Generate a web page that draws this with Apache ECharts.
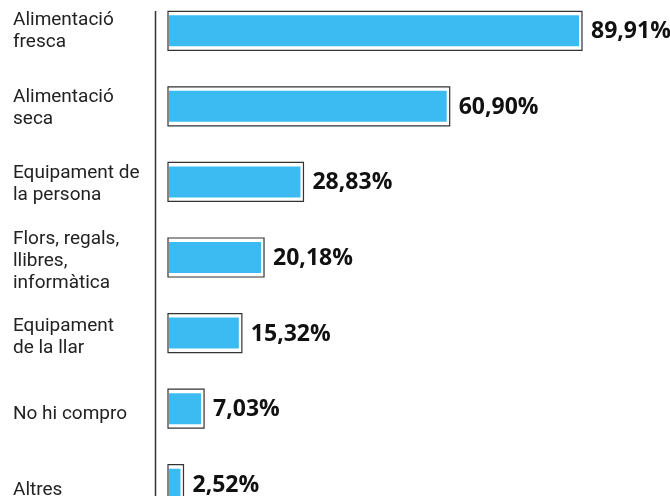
<!DOCTYPE html>
<html>
<head>
<meta charset="utf-8">
<script src="https://cdn.jsdelivr.net/npm/echarts@6/dist/echarts.min.js"></script>
<style>
  html, body { margin: 0; padding: 0; background: #fff; }
  #chart { width: 670px; height: 496px; }
</style>
</head>
<body>
<div id="chart"></div>
<script>
// categories (top to bottom)
const categories = [
  'Alimentació\nfresca',
  'Alimentació\nseca',
  'Equipament de\nla persona',
  'Flors, regals,\nllibres,\ninformàtica',
  'Equipament\nde la llar',
  'No hi compro',
  'Altres'
]
// percentages
const values = [89.91, 60.90, 28.83, 20.18, 15.32, 7.03, 2.52]

const chart = echarts.init(document.getElementById('chart'))

const fmt = v => v.toFixed(2).replace('.', ',') + '%'

const option = {
  backgroundColor: '#fff',
  animation: false,
  grid: [
    // bars
    { left: 169, right: 45, top: -7, height: 529, outerBoundsMode: 'none', containLabel: false },
    // category labels (text block runs a little looser than the bars)
    { left: 169, right: 45, top: -7, height: 536, outerBoundsMode: 'none', containLabel: false }
  ],
  xAxis: [
    { type: 'value', min: 0, max: 100, show: false, gridIndex: 0 },
    { type: 'value', min: 0, max: 100, show: false, gridIndex: 1 }
  ],
  yAxis: [
    {
      type: 'category',
      gridIndex: 0,
      inverse: true,
      data: categories,
      axisLine: { show: false },
      axisTick: { show: false },
      axisLabel: { show: false }
    },
    {
      type: 'category',
      gridIndex: 1,
      inverse: true,
      data: categories,
      axisLine: { show: false },
      axisTick: { show: false },
      axisLabel: {
        align: 'left',
        margin: 156,
        color: '#222',
        fontFamily: 'Roboto',
        fontSize: 19,
        lineHeight: 22,
        padding: [2, 0, 0, 0]
      }
    }
  ],
  graphic: [{
    type: 'line',
    shape: { x1: 155.5, y1: 11, x2: 155.5, y2: 496 },
    style: { stroke: '#333', lineWidth: 1.5 }
  }],
  series: [{
    type: 'custom',
    xAxisIndex: 0,
    yAxisIndex: 0,
    data: values.map((v, i) => [v, i]),
    encode: { x: 0, y: 1 },
    renderItem(params, api) {
      const v = api.value(0)
      const end = api.coord([v, api.value(1)])
      const start = api.coord([0, api.value(1)])
      const w = end[0] - start[0]
      return {
        type: 'group',
        children: [
          {
            type: 'rect',
            shape: { x: start[0] - 1, y: end[1] - 19.5, width: w + 4, height: 39 },
            style: { fill: '#fff', stroke: '#333', lineWidth: 1.2 }
          },
          {
            type: 'rect',
            shape: { x: start[0], y: end[1] - 15.5, width: w, height: 31 },
            style: { fill: '#3bbbf1' }
          },
          {
            type: 'text',
            x: end[0] + 12,
            y: end[1] + 1,
            style: {
              text: fmt(v),
              fill: '#111',
              font: 'bold 23px "Open Sans"',
              verticalAlign: 'middle',
              align: 'left'
            }
          }
        ]
      }
    }
  }]
}

chart.setOption(option)
</script>
</body>
</html>
